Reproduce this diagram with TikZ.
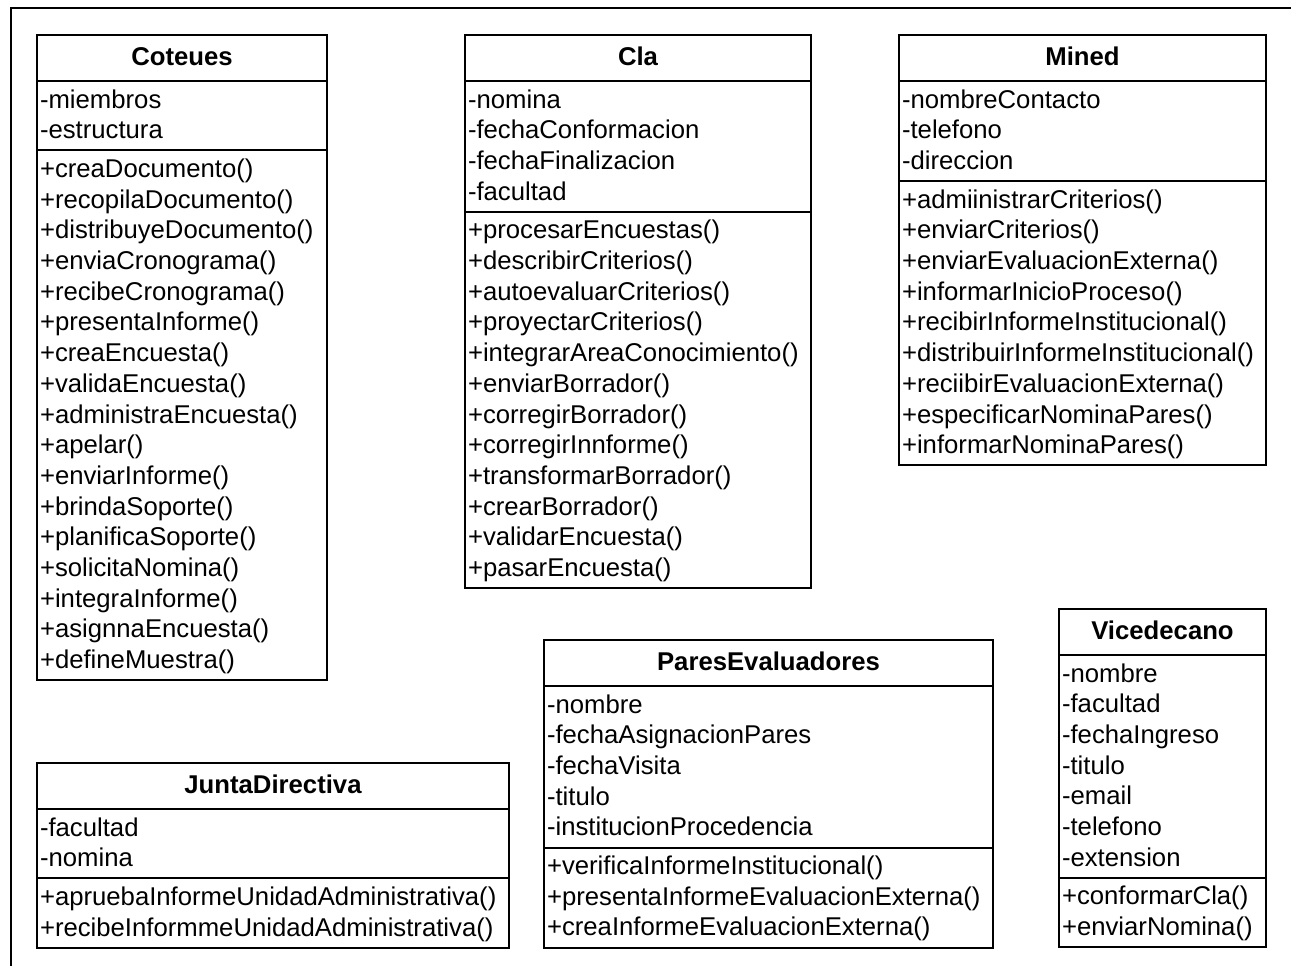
\documentclass[tikz,border=0pt]{standalone}
\usepackage{fontspec}
\setmainfont{Liberation Sans}
\usetikzlibrary{positioning}
\newcommand\umlstrut{\rule[-0.25\baselineskip]{0pt}{\baselineskip}}

\begin{document}
\begin{tikzpicture}[x=0.5pt, y=-0.5pt,
  every node/.style={draw, line width=1pt, outer sep=0pt, inner xsep=1.5pt, inner ysep=2pt,
    font=\fontsize{12.85}{15.35}\selectfont, anchor=north west,
    execute at begin node=\umlstrut, execute at end node=\umlstrut},
  classname/.style={text width=#1, align=center, minimum height=23pt,
    font=\fontsize{12.85}{15.35}\selectfont\bfseries},
  members/.style={text width=#1, align=left}]
\useasboundingbox (0,0) rectangle (1291,966);
\draw[line width=1pt] (1291,8) -| (11,966);

% Coteues
\node[classname=142pt] (cot) at (37,35) {Coteues};
\node[members=142pt, below=0pt of cot] (cotA) {-miembros\\-estructura};
\node[members=142pt, below=0pt of cotA] (cotO) {+creaDocumento()\\+recopilaDocumento()\\+distribuyeDocumento()\\+enviaCronograma()\\+recibeCronograma()\\+presentaInforme()\\+creaEncuesta()\\+validaEncuesta()\\+administraEncuesta()\\+apelar()\\+enviarInforme()\\+brindaSoporte()\\+planificaSoporte()\\+solicitaNomina()\\+integraInforme()\\+asignnaEncuesta()\\+defineMuestra()};

% Cla
\node[classname=170pt] (cla) at (465,35) {Cla};
\node[members=170pt, below=0pt of cla] (claA) {-nomina\\-fechaConformacion\\-fechaFinalizacion\\-facultad};
\node[members=170pt, below=0pt of claA] (claO) {+procesarEncuestas()\\+describirCriterios()\\+autoevaluarCriterios()\\+proyectarCriterios()\\+integrarAreaConocimiento()\\+enviarBorrador()\\+corregirBorrador()\\+corregirInnforme()\\+transformarBorrador()\\+crearBorrador()\\+validarEncuesta()\\+pasarEncuesta()};

% Mined
\node[classname=180.5pt] (min) at (899,35) {Mined};
\node[members=180.5pt, below=0pt of min] (minA) {-nombreContacto\\-telefono\\-direccion};
\node[members=180.5pt, below=0pt of minA] (minO) {+admiinistrarCriterios()\\+enviarCriterios()\\+enviarEvaluacionExterna()\\+informarInicioProceso()\\+recibirInformeInstitucional()\\+distribuirInformeInstitucional()\\+reciibirEvaluacionExterna()\\+especificarNominaPares()\\+informarNominaPares()};

% JuntaDirectiva
\node[classname=233pt] (jun) at (37,763) {JuntaDirectiva};
\node[members=233pt, below=0pt of jun] (junA) {-facultad\\-nomina};
\node[members=233pt, below=0pt of junA] (junO) {+apruebaInformeUnidadAdministrativa()\\+recibeInformmeUnidadAdministrativa()};

% ParesEvaluadores
\node[classname=221.5pt] (par) at (544,640) {ParesEvaluadores};
\node[members=221.5pt, below=0pt of par] (parA) {-nombre\\-fechaAsignacionPares\\-fechaVisita\\-titulo\\-institucionProcedencia};
\node[members=221.5pt, below=0pt of parA] (parO) {+verificaInformeInstitucional()\\+presentaInformeEvaluacionExterna()\\+creaInformeEvaluacionExterna()};

% Vicedecano
\node[classname=100.5pt] (vic) at (1059,609) {Vicedecano};
\node[members=100.5pt, below=0pt of vic] (vicA) {-nombre\\-facultad\\-fechaIngreso\\-titulo\\-email\\-telefono\\-extension};
\node[members=100.5pt, below=0pt of vicA] (vicO) {+conformarCla()\\+enviarNomina()};
\end{tikzpicture}
\end{document}
